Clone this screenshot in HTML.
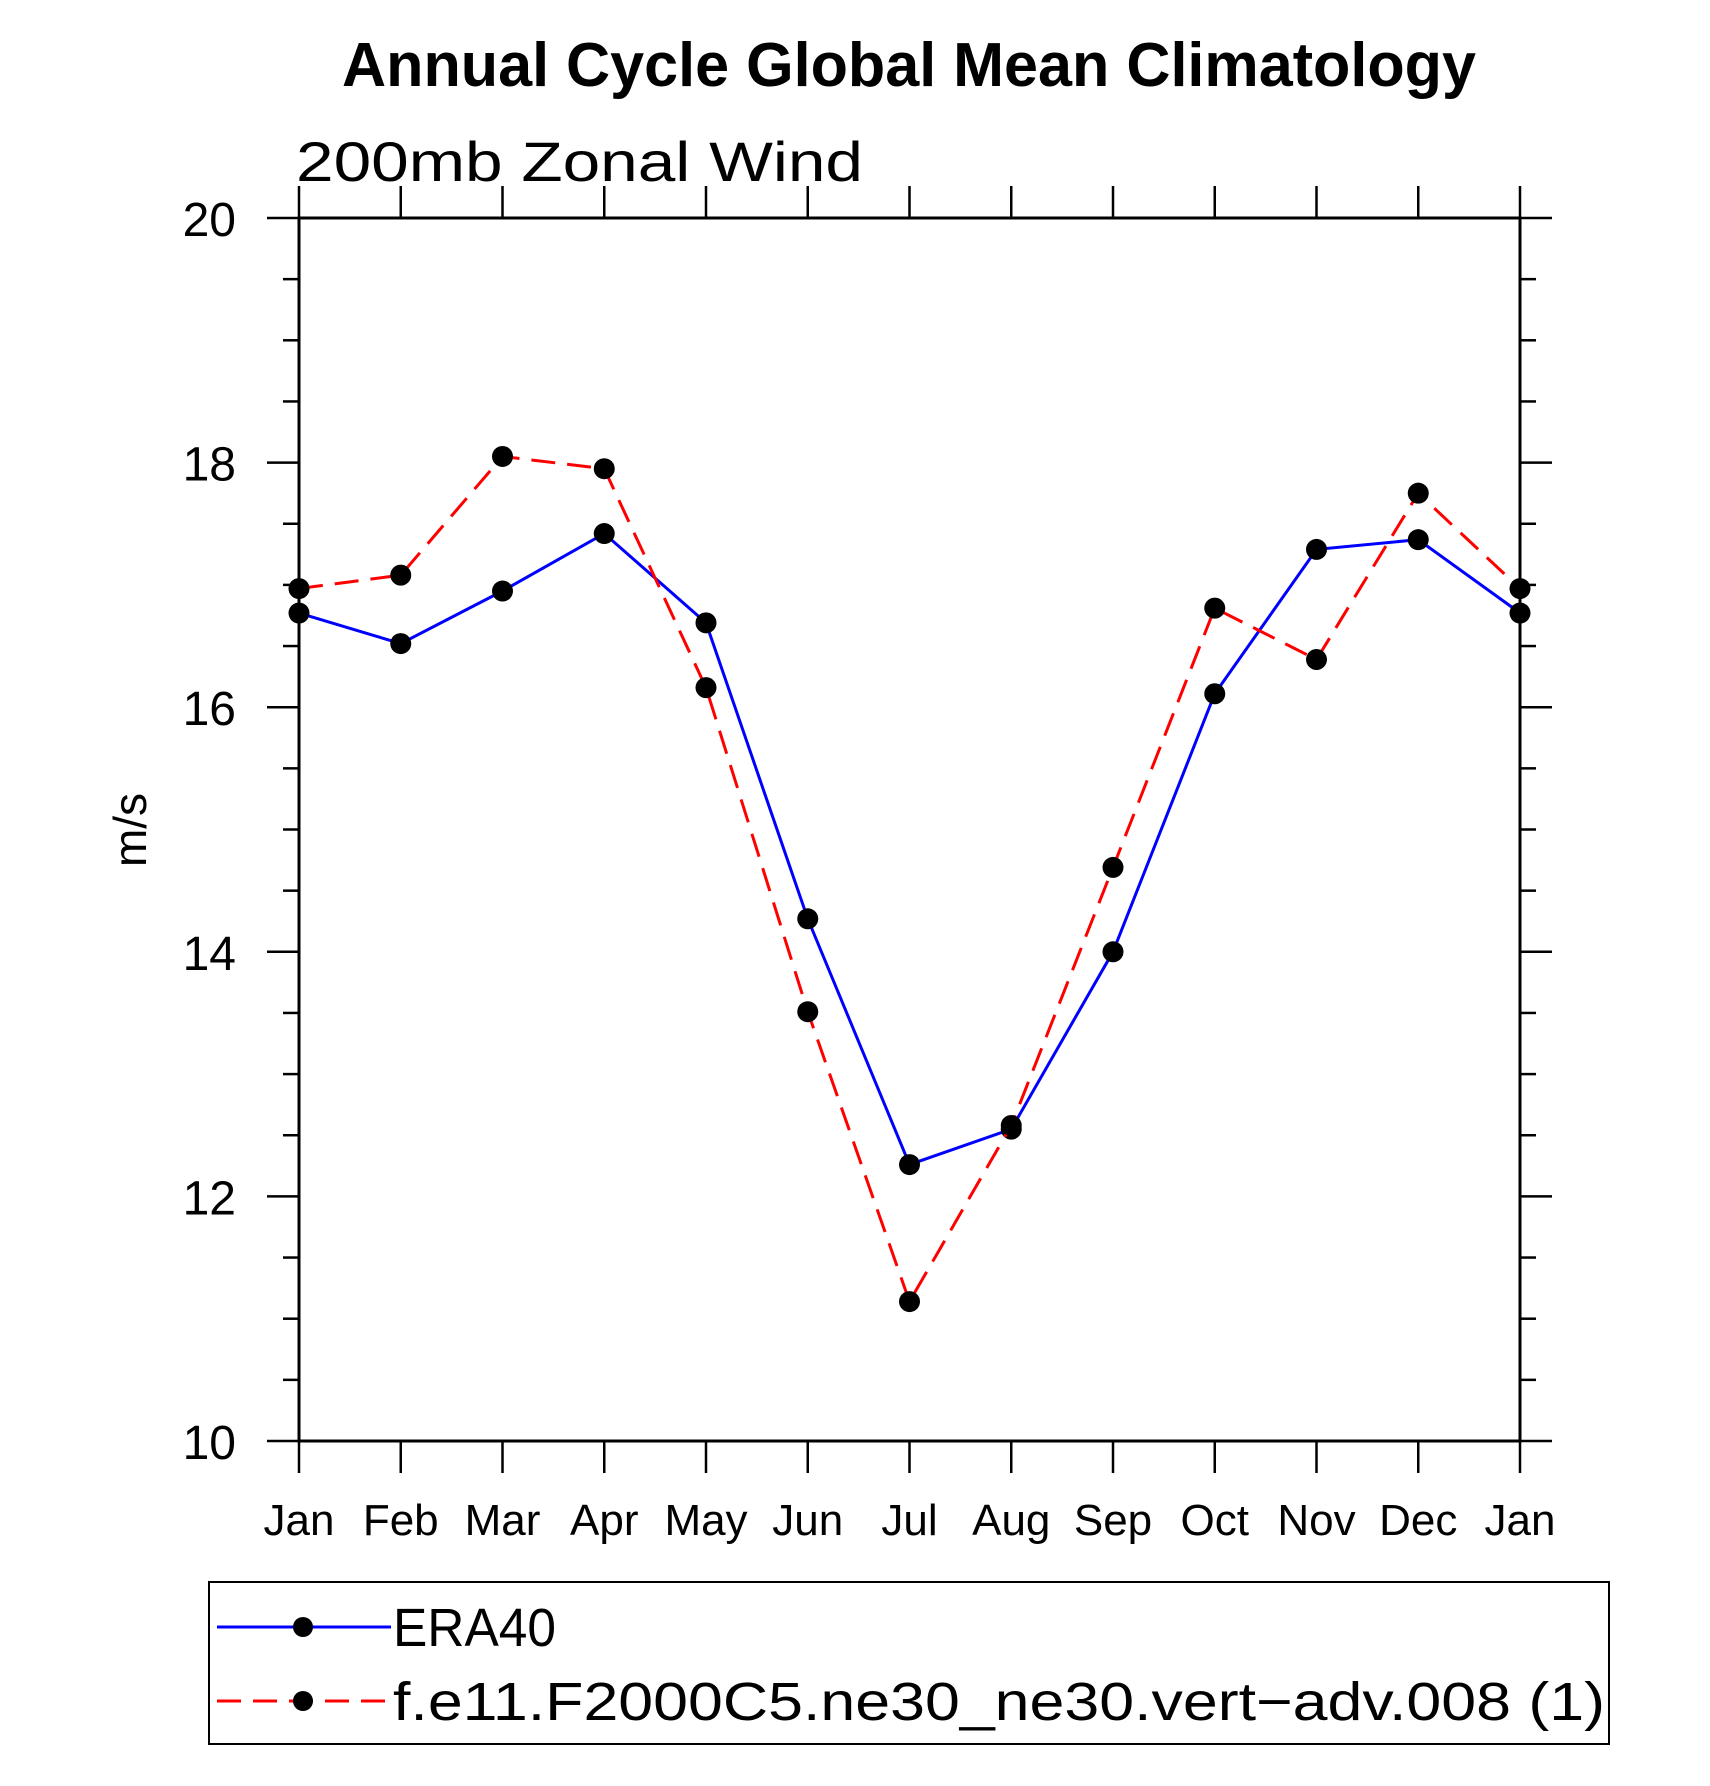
<!DOCTYPE html>
<html><head><meta charset="utf-8"><style>
html,body{margin:0;padding:0;background:#fff;}
svg text{font-family:"Liberation Sans",sans-serif;}
</style></head><body>
<svg id="chart" width="1710" height="1781" viewBox="0 0 1710 1781" xmlns="http://www.w3.org/2000/svg">
<text x="909" y="86" text-anchor="middle" font-size="62" font-weight="bold" textLength="1134" lengthAdjust="spacingAndGlyphs">Annual Cycle Global Mean Climatology</text>
<text x="296" y="181" font-size="56" textLength="567" lengthAdjust="spacingAndGlyphs">200mb  Zonal  Wind</text>
<text transform="translate(146,830) rotate(-90)" text-anchor="middle" font-size="46">m/s</text>
<g id="axes"></g>
<g id="series"></g>
<rect x="209" y="1582" width="1400" height="162" fill="none" stroke="#000" stroke-width="2"/>
<g>
<line x1="217" y1="1627" x2="391" y2="1627" stroke="#0000ff" stroke-width="3"/>
<circle cx="303" cy="1627" r="10" fill="#000"/>
<text x="393" y="1646" font-size="54" textLength="163" lengthAdjust="spacingAndGlyphs">ERA40</text>
</g>
<g>
<line x1="217" y1="1701" x2="391" y2="1701" stroke="#ff0000" stroke-width="3" stroke-dasharray="24,12"/>
<circle cx="303" cy="1701" r="10" fill="#000"/>
<text x="393" y="1720" font-size="54" textLength="1212" lengthAdjust="spacingAndGlyphs">f.e11.F2000C5.ne30_ne30.vert−adv.008 (1)</text>
</g>
</svg>
<script>
const months = ["Jan","Feb","Mar","Apr","May","Jun","Jul","Aug","Sep","Oct","Nov","Dec","Jan"];
const era40 = [16.77,16.52,16.95,17.42,16.69,14.27,12.26,12.55,14.0,16.11,17.29,17.37,16.77];
const model = [16.97,17.08,18.05,17.95,16.16,13.51,11.14,12.58,14.69,16.81,16.39,17.75,16.97];
const yTicks = [10,12,14,16,18,20];
const yMin = 10, yMax = 20;
const L = 299, R = 1520, T = 218, B = 1441;
const NS = "http://www.w3.org/2000/svg";
function xs(i){ return L + (R - L) * i / (months.length - 1); }
function ys(v){ return B - (B - T) * (v - yMin) / (yMax - yMin); }
function mk(tag, attrs, parent){ const e=document.createElementNS(NS,tag); for(const k in attrs) e.setAttribute(k,attrs[k]); parent.appendChild(e); return e; }
const axes = document.getElementById('axes');
const frame = mk('rect',{x:L,y:T,width:R-L,height:B-T,fill:'none',stroke:'#000','stroke-width':3},axes);


months.forEach((m,i)=>{
  const x = xs(i);
  mk('line',{x1:x,y1:B,x2:x,y2:B+32,stroke:'#000','stroke-width':2.5},axes);
  mk('line',{x1:x,y1:T,x2:x,y2:T-32,stroke:'#000','stroke-width':2.5},axes);
  const t = mk('text',{x:x,y:1535,'text-anchor':'middle','font-size':44},axes);
  t.textContent = m;
  
  
});
for(let v=yMin; v<=yMax+1e-9; v+=0.5){
  const y = ys(v);
  const major = Math.abs(v - Math.round(v/2)*2) < 1e-9;
  const len = major ? 32 : 16;
  mk('line',{x1:L-len,y1:y,x2:L,y2:y,stroke:'#000','stroke-width':2.5},axes);
  mk('line',{x1:R,y1:y,x2:R+len,y2:y,stroke:'#000','stroke-width':2.5},axes);
}
yTicks.forEach(v=>{
  const t = mk('text',{x:236,y:ys(v)+18,'text-anchor':'end','font-size':48},axes);
  t.textContent = v;
  
  
});
const series = document.getElementById('series');
function drawSeries(vals,color,dash,name){
  const g = mk('g',{},series);
  
  
  const pts = vals.map((v,i)=>xs(i)+','+ys(v)).join(' ');
  const attrs = {points:pts,fill:'none',stroke:color,'stroke-width':3};
  if(dash) attrs['stroke-dasharray']=dash;
  mk('polyline',attrs,g);
  vals.forEach((v,i)=>{
    const c = mk('circle',{cx:xs(i),cy:ys(v),r:10.5,fill:'#000'},g);
    
    
  });
}
drawSeries(era40,'#0000ff',null,'series-era40');
drawSeries(model,'#ff0000','24,12','series-model');
</script>
</body></html>
